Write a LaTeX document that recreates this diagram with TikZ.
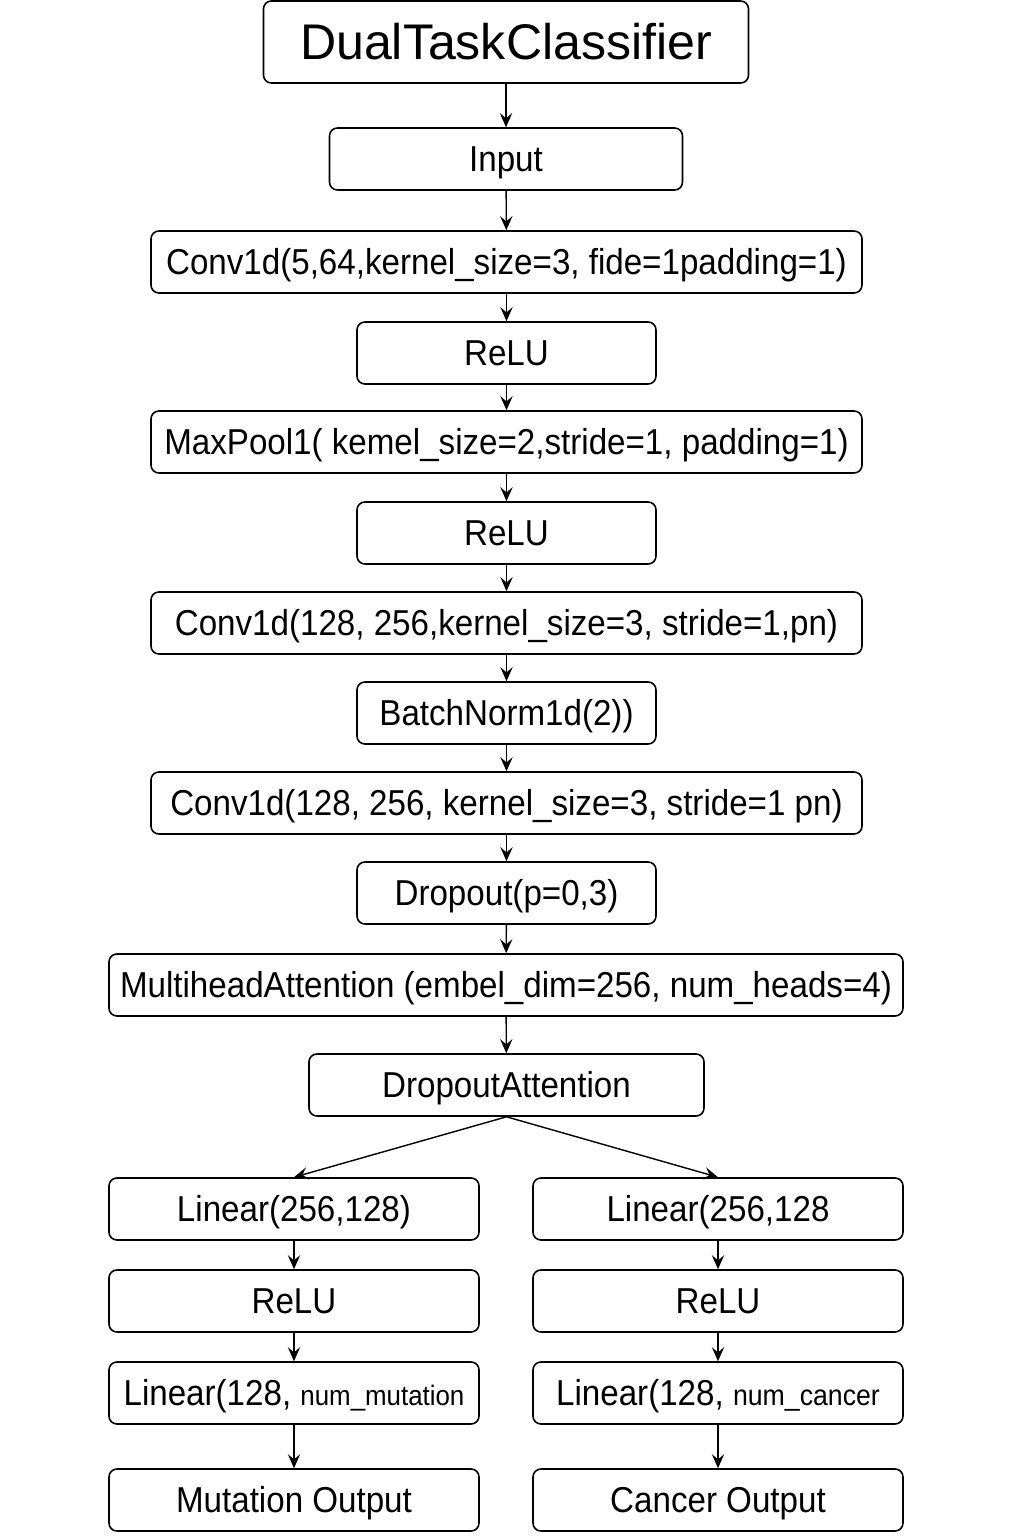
\documentclass[tikz,border=0pt]{standalone}
\usepackage{fontspec}
\setmainfont{Liberation Sans}[FakeStretch=0.92]
\newfontfamily\titlefont{Liberation Sans}
\usetikzlibrary{arrows.meta}

\tikzset{
  layer/.style={draw, line width=0.9pt, rounded corners=4.5pt, minimum height=1.24cm,
    inner sep=0pt, text height=14.7pt, text depth=0pt, font=\fontsize{20.5}{24}\selectfont},
  widelayer/.style={layer, minimum width=14.22cm},
  smalllayer/.style={layer, minimum width=5.98cm},
  branchlayer/.style={layer, minimum width=7.4cm},
  flow/.style={-{Stealth[length=8pt,width=7pt,inset=3pt]}, line width=0.8pt}
}

\begin{document}
\begin{tikzpicture}
    \useasboundingbox (0,0) rectangle (20.48,-30.72);
    % trunk
    \node [layer, minimum width=9.7cm, minimum height=1.64cm, text height=20pt, font=\titlefont\fontsize{28.5}{32}\selectfont] (Title) at (10.12,-0.84) {DualTaskClassifier};
    \node [layer, minimum width=7.06cm] (In) at (10.12,-3.18) {Input};
    \node [widelayer] (Conv1) at (10.13,-5.24) {Conv1d(5,64,kernel\_size=3, fide=1padding=1)};
    \node [smalllayer] (Relu1) at (10.13,-7.06) {ReLU};
    \node [widelayer] (Pool) at (10.13,-8.84) {MaxPool1( kemel\_size=2,stride=1, padding=1)};
    \node [smalllayer] (Relu2) at (10.13,-10.66) {ReLU};
    \node [widelayer] (Conv2) at (10.13,-12.46) {Conv1d(128, 256,kernel\_size=3, stride=1,pn)};
    \node [smalllayer] (Norm) at (10.13,-14.26) {BatchNorm1d(2))};
    \node [widelayer] (Conv3) at (10.13,-16.06) {Conv1d(128, 256, kernel\_size=3, stride=1 pn)};
    \node [smalllayer] (Drop) at (10.13,-17.86) {Dropout(p=0,3)};
    \node [layer, minimum width=15.88cm] (Attn) at (10.12,-19.70) {MultiheadAttention (embel\_dim=256, num\_heads=4)};
    \node [layer, minimum width=7.9cm] (DropAttn) at (10.13,-21.70) {DropoutAttention};
    % mutation head
    \node [branchlayer] (M1) at (5.88,-24.18) {Linear(256,128)};
    \node [branchlayer] (M2) at (5.88,-26.02) {ReLU};
    \node [branchlayer] (M3) at (5.88,-27.86) {Linear(128, {\fontsize{16}{19}\selectfont num\_mutation}};
    \node [branchlayer] (M4) at (5.88,-30.00) {Mutation Output};
    % cancer head
    \node [branchlayer] (C1) at (14.36,-24.18) {Linear(256,128};
    \node [branchlayer] (C2) at (14.36,-26.02) {ReLU};
    \node [branchlayer] (C3) at (14.36,-27.86) {Linear(128, {\fontsize{16.5}{19}\selectfont num\_cancer}};
    \node [branchlayer] (C4) at (14.36,-30.00) {Cancer Output};
    \draw [flow] (Title) to (In);
    \draw [flow] (In) to (Conv1);
    \draw [flow] (Conv1) to (Relu1);
    \draw [flow] (Relu1) to (Pool);
    \draw [flow] (Pool) to (Relu2);
    \draw [flow] (Relu2) to (Conv2);
    \draw [flow] (Conv2) to (Norm);
    \draw [flow] (Norm) to (Conv3);
    \draw [flow] (Conv3) to (Drop);
    \draw [flow] (Drop) to (Attn);
    \draw [flow] (Attn) to (DropAttn);
    \draw [flow] (DropAttn.south) to (M1.north);
    \draw [flow] (DropAttn.south) to (C1.north);
    \draw [flow] (M1) to (M2);
    \draw [flow] (M2) to (M3);
    \draw [flow] (M3) to (M4);
    \draw [flow] (C1) to (C2);
    \draw [flow] (C2) to (C3);
    \draw [flow] (C3) to (C4);
\end{tikzpicture}
\end{document}
